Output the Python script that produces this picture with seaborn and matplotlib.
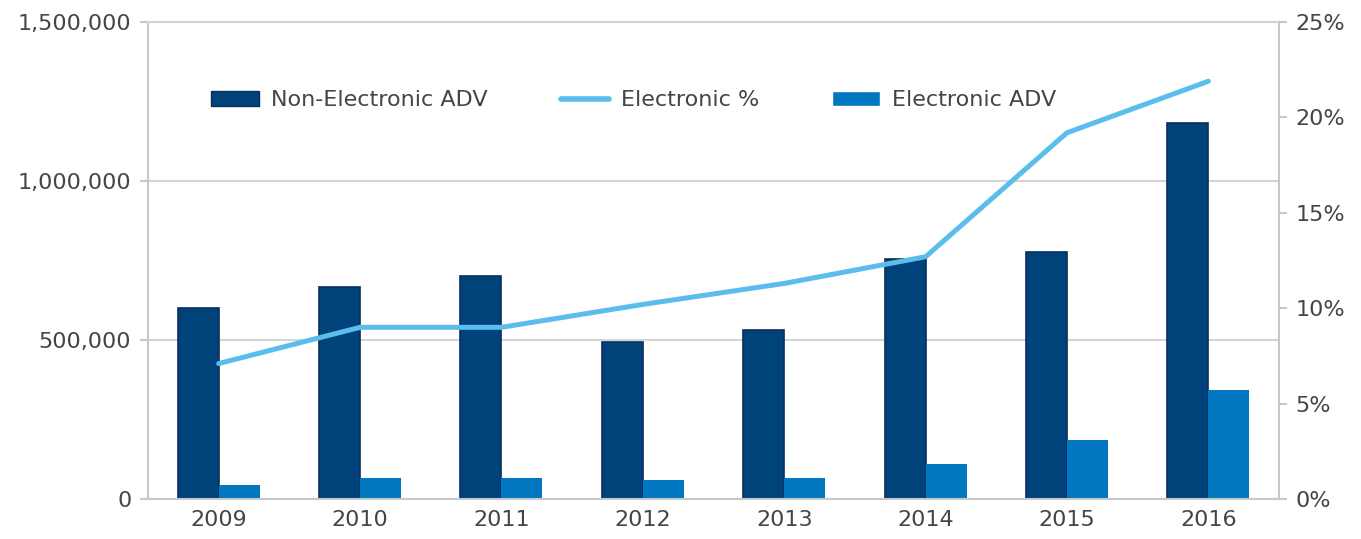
import numpy as np
import pandas as pd
import matplotlib
matplotlib.use("Agg")
import matplotlib.pyplot as plt
import seaborn as sns
from matplotlib.patches import Patch
from matplotlib.lines import Line2D
from matplotlib.ticker import FuncFormatter, FixedLocator

# chart data
years = ["2009", "2010", "2011", "2012", "2013", "2014", "2015", "2016"]
non_electronic_adv = [600000, 667000, 701000, 494000, 531000, 755000, 777000, 1182000]
electronic_adv = [44000, 66000, 66000, 60000, 66000, 110000, 186000, 342000]
electronic_pct = [7.1, 9.0, 9.0, 10.2, 11.3, 12.7, 19.2, 21.9]

dark_blue = "#00427A"
mid_blue = "#0077C0"
light_blue = "#5BBDEB"
grey = "#C8C8C8"
text_col = "#454545"

sns.set_theme(style="white")
plt.rcParams["font.family"] = ["DejaVu Sans"]

df = pd.DataFrame({
    "Year": years * 2,
    "ADV": non_electronic_adv + electronic_adv,
    "Type": ["Non-Electronic ADV"] * len(years) + ["Electronic ADV"] * len(years),
})

fig = plt.figure(figsize=(13.61, 5.39), dpi=100)
ax = fig.add_axes([0.1087, 0.0742, 0.8311, 0.8848])

sns.barplot(data=df, x="Year", y="ADV", hue="Type",
            palette={"Non-Electronic ADV": dark_blue, "Electronic ADV": mid_blue},
            width=0.58, dodge=True, ax=ax, legend=False, saturation=1)
for p in ax.patches:
    if p.get_facecolor()[:3] == matplotlib.colors.to_rgb(dark_blue):
        p.set_edgecolor("#0A2F5C")
        p.set_linewidth(1.2)
    else:
        p.set_linewidth(0)

ax.set_xlim(-0.5, len(years) - 0.5)
ax.set_ylim(0, 1500000)
ax.set_yticks([0, 500000, 1000000, 1500000])
ax.yaxis.set_major_formatter(FuncFormatter(lambda v, _: f"{int(v):,}"))
ax.set_xlabel("")
ax.set_ylabel("")
ax.yaxis.grid(True, color="#D4D4D4", linewidth=1.5)
ax.set_axisbelow(True)

fs = 16
ax.xaxis.set_minor_locator(FixedLocator(np.arange(-0.5, len(years), 1.0)))
ax.tick_params(axis="x", which="major", length=0, pad=8, labelsize=fs, labelcolor=text_col)
ax.tick_params(axis="x", which="minor", length=8, width=1.5, color=grey, direction="out")
ax.tick_params(axis="y", length=6, width=1.5, color=grey, direction="out", pad=6,
               labelsize=fs, labelcolor=text_col, left=True)

for side in ["left", "right", "bottom", "top"]:
    ax.spines[side].set_color(grey)
    ax.spines[side].set_linewidth(1.5)
ax.spines["top"].set_color("#D4D4D4")

ax2 = ax.twinx()
sns.lineplot(x=np.arange(len(years)), y=electronic_pct, ax=ax2, color=light_blue,
             linewidth=3.6, solid_capstyle="round")
ax2.set_ylim(0, 25)
ax2.set_yticks([0, 5, 10, 15, 20, 25])
ax2.yaxis.set_major_formatter(FuncFormatter(lambda v, _: f"{int(v)}%"))
ax2.tick_params(axis="y", length=6, width=1.5, color=grey, direction="out", pad=6,
                labelsize=fs, labelcolor=text_col, right=True)
for side in ["left", "right", "bottom", "top"]:
    ax2.spines[side].set_visible(False)
ax2.grid(False)

handles = [
    Patch(facecolor=dark_blue, edgecolor="#0A2F5C"),
    Line2D([0], [0], color=light_blue, linewidth=4),
    Patch(facecolor=mid_blue),
]
labels = ["Non-Electronic ADV", "Electronic %", "Electronic ADV"]
ax.legend(handles, labels, ncol=3, frameon=False, loc="upper left",
          bbox_to_anchor=(0.038, 0.899), fontsize=fs, labelcolor=text_col,
          columnspacing=3.3, handlelength=2.15, handleheight=0.65, handletextpad=0.55)

fig.savefig("out.png", dpi=100)
